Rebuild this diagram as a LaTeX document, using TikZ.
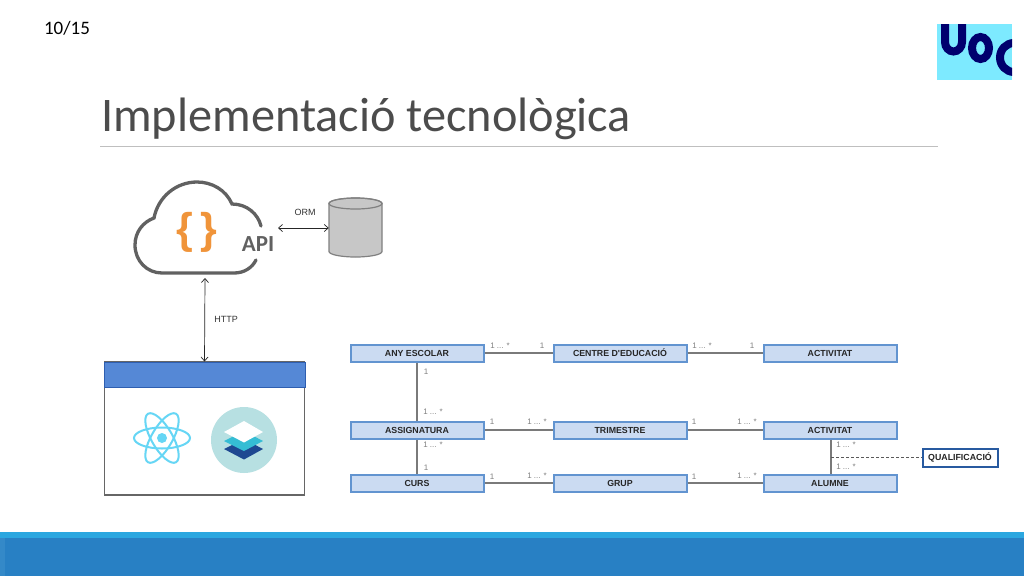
\documentclass[tikz,border=0pt]{standalone}
\usepackage{fontspec}
\setmainfont{Carlito}
\newfontfamily\arialfont{Liberation Sans}
\usepackage{tikz}
\usetikzlibrary{arrows.meta}
\definecolor{boxfill}{HTML}{CBDBF2}
\definecolor{boxline}{HTML}{6294D0}
\definecolor{conline}{HTML}{7A7A7A}
\definecolor{cardtext}{HTML}{808080}
\definecolor{reactblue}{HTML}{66D6F5}
\definecolor{logobg}{HTML}{7DEAFF}
\definecolor{logonavy}{HTML}{00006E}
\definecolor{footlight}{HTML}{2BA7E0}
\definecolor{footmain}{HTML}{2880C4}
\definecolor{footedge}{HTML}{3489C8}
\definecolor{braceorange}{HTML}{F0943A}
\definecolor{barline}{HTML}{2E5EB0}
\definecolor{barfill}{HTML}{5588D6}
\definecolor{layerbg}{HTML}{B7E0E2}
\definecolor{layerdark}{HTML}{1E4891}
\definecolor{layerteal}{HTML}{35BDD4}
\definecolor{qualline}{HTML}{285AA0}
\tikzset{
  classbox/.style={draw=boxline,fill=boxfill,line width=2pt,minimum width=133,minimum height=17,inner sep=0,text height=6.4pt,text depth=0pt,font=\arialfont\bfseries\fontsize{8.8}{10}\selectfont,text=black!85},
  conn/.style={draw=conline,line width=1.1pt},
  twohead/.style={{Straight Barb[length=4pt,width=7pt]}-{Straight Barb[length=4pt,width=7pt]},black!85,line width=.7pt},
  card/.style={text=cardtext,inner sep=0,font=\arialfont\fontsize{8}{10}\selectfont},
  note/.style={inner sep=0,text=black!80,font=\arialfont\fontsize{9}{11}\selectfont},
  orbit/.style={draw=reactblue,line width=2pt},
}
\begin{document}
\begin{tikzpicture}[x=1pt,y=-1pt]
 \useasboundingbox (0,0) rectangle (1024,576);
 \fill[white] (0,0) rectangle (1024,576);
 % header
 \node (page) at (67,28.5) {\fontsize{19}{21}\selectfont 10/15};
 \node[anchor=west,inner sep=0,text=black!70] (title) at (101,119) {\fontsize{48.3}{54}\selectfont Implementació tecnològica};
 \draw[black!25,line width=1pt] (100,146) -- (938,146);
 % logo
 \fill[logobg] (937,24) rectangle (1012,80);
 \begin{scope}
  \clip (937,24) rectangle (1012,80);
  \draw[line width=8pt,logonavy] (945,20) -- (945,42) arc[start angle=180,end angle=0,x radius=8.5,y radius=9.5] -- (962,20);
  \draw[line width=8pt,logonavy] (980.5,48) ellipse[x radius=8.5,y radius=11];
  \draw[line width=8pt,logonavy] (1014,57.5) ellipse[x radius=14,y radius=14.5];
 \end{scope}
 % footer
 \fill[footlight] (0,532) rectangle (1024,538);
 \fill[footmain] (0,538) rectangle (1024,576);
 \fill[footedge] (0,538) rectangle (5,576);
 % cloud
 \draw[black!62,line width=3.3pt,line cap=round] (261,226) .. controls (258,214) and (247,204) .. (232,204)
   .. controls (226,190) and (212,182) .. (197,182) .. controls (176,182) and (158,197) .. (154,218)
   .. controls (143,222) and (135,232) .. (135,245) .. controls (135,261) and (147,273) .. (162,273)
   -- (234,273) .. controls (244,273) and (252,268) .. (256,260);
 \node[text=braceorange,inner sep=0] (braces) at (196.5,232) {\arialfont\bfseries\fontsize{43}{45}\selectfont\{\,\}};
 \node[text=black!62,inner sep=0] (api) at (258,244) {\bfseries\fontsize{23}{25}\selectfont API};
 \coordinate (cloudr) at (278,228);
 \coordinate (cloudb) at (205,278);
 % database
 \draw[black!50,fill=black!22,line width=1.2pt] (329,203.5) -- (329,251.5) arc[start angle=180,end angle=0,x radius=26.5,y radius=5.5]
   -- (382,203.5) arc[start angle=0,end angle=-180,x radius=26.5,y radius=5.5] -- cycle;
 \draw[black!50,line width=1.2pt] (355.5,203.5) ellipse[x radius=26.5,y radius=5.5];
 \node[inner sep=0,minimum width=53,minimum height=59] (db) at (355.5,227.5) {};
 \draw[twohead] (cloudr) -- (db.west |- cloudr);
 \node[note] (orm) at (305,212) {ORM};
 % frontend window
 \node[draw=black!60,fill=white,line width=1.2pt,minimum width=200,minimum height=133,inner sep=0] (appwin) at (204.5,428.5) {};
 \node[draw=barline,fill=barfill,line width=1pt,minimum width=201,minimum height=25,inner sep=0] (appbar) at (204.5,374.5) {};
 \draw[twohead] (cloudb) -- (appbar.north);
 \node[note] (http) at (226,319) {HTTP};
 % react
 \draw[orbit] (162,438) ellipse[x radius=28,y radius=10.5];
 \draw[orbit,rotate around={60:(162,438)}] (162,438) ellipse[x radius=28,y radius=10.5];
 \draw[orbit,rotate around={120:(162,438)}] (162,438) ellipse[x radius=28,y radius=10.5];
 \fill[reactblue] (162,438) circle[radius=5];
 % layers
 \fill[layerbg] (244,440) circle[radius=33];
 \fill[layerdark] (224,449) -- (244,439) -- (263,449) -- (244,459.5) -- cycle;
 \fill[layerteal] (224,441) -- (244,431) -- (263,441) -- (244,451) -- cycle;
 \fill[white] (224,432) -- (244,421) -- (263,432) -- (244,442.5) -- cycle;
 % classes
 \node[classbox] (any) at (417,353) {ANY ESCOLAR};
 \node[classbox] (centre) at (620,353) {CENTRE D'EDUCACIÓ};
 \node[classbox] (act1) at (830,353) {ACTIVITAT};
 \node[classbox] (assig) at (417,430) {ASSIGNATURA};
 \node[classbox] (trim) at (620,430) {TRIMESTRE};
 \node[classbox] (act2) at (830,430) {ACTIVITAT};
 \node[classbox] (curs) at (417,483) {CURS};
 \node[classbox] (grup) at (620,483) {GRUP};
 \node[classbox] (alumne) at (830,483) {ALUMNE};
 \node[classbox,draw=qualline,fill=white,minimum width=75,minimum height=18] (qual) at (960,457.5) {QUALIFICACIÓ};
 \draw[conn] (any) -- (centre);
 \draw[conn] (centre) -- (act1);
 \draw[conn] (assig) -- (trim);
 \draw[conn] (trim) -- (act2);
 \draw[conn] (curs) -- (grup);
 \draw[conn] (grup) -- (alumne);
 \draw[conn] (any) -- (assig);
 \draw[conn] (assig) -- (curs);
 \coordinate (actb) at ([xshift=1pt]act2.south);
 \draw[conn] (actb) -- (alumne.north -| actb);
 \coordinate (qualb) at (actb |- qual);
 \draw[black!65,densely dashed,line width=.8pt] (qualb) -- (qual.west);
 % multiplicities
 \node[card] (c1) at (500,345.5) {1 ... *};
 \node[card] (c2) at (542,345.5) {1};
 \node[card] (c3) at (702,345.5) {1 ... *};
 \node[card] (c4) at (752,345.5) {1};
 \node[card] (c5) at (426,372) {1};
 \node[card] (c6) at (433,412) {1 ... *};
 \node[card] (c7) at (492,422) {1};
 \node[card] (c8) at (537,422) {1 ... *};
 \node[card] (c9) at (694,422) {1};
 \node[card] (c10) at (747,421.5) {1 ... *};
 \node[card] (c11) at (433,445) {1 ... *};
 \node[card] (c12) at (426,468) {1};
 \node[card] (c13) at (846,445) {1 ... *};
 \node[card] (c14) at (846,467) {1 ... *};
 \node[card] (c15) at (492,476.5) {1};
 \node[card] (c16) at (537,475.5) {1 ... *};
 \node[card] (c17) at (694,476.5) {1};
 \node[card] (c18) at (747,475.5) {1 ... *};
\end{tikzpicture}
\end{document}
